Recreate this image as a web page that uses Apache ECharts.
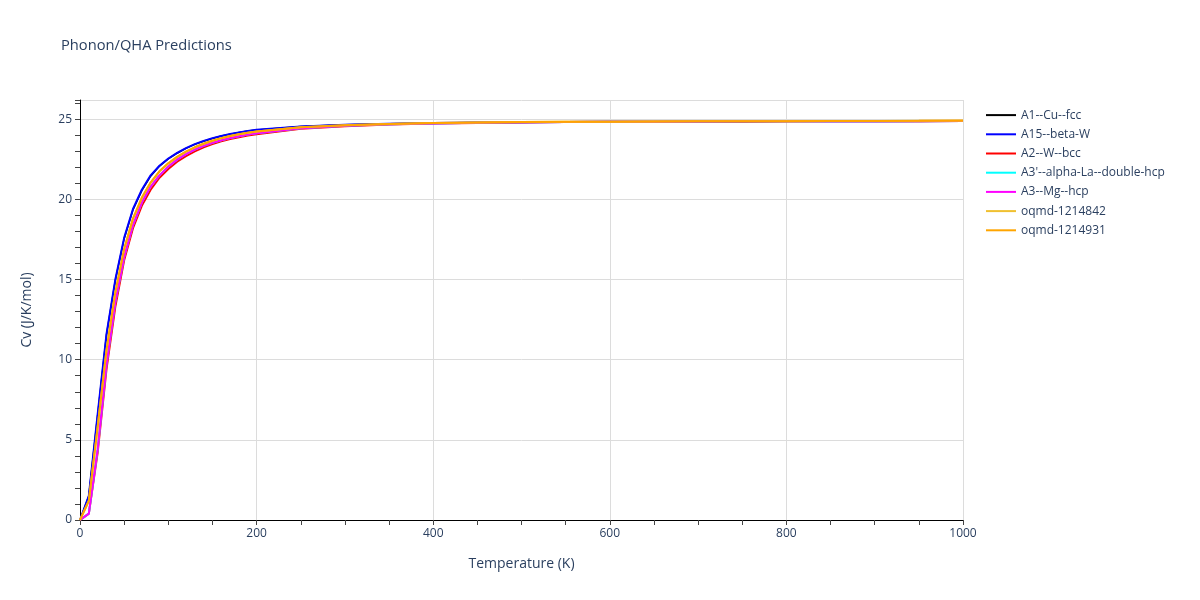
<!DOCTYPE html>
<html>
<head>
<meta charset="utf-8">
<script src="https://cdn.jsdelivr.net/npm/echarts@6/dist/echarts.min.js"></script>
<style>html,body{margin:0;padding:0;background:#fff}#c{width:1200px;height:600px}</style>
</head>
<body>
<div id="c"></div>
<script>
const temps = [0,10,20,30,40,50,60,70,80,90,100,110,120,130,140,150,160,170,180,190,200,250,300,350,400,450,500,550,600,650,700,750,800,850,900,950,1000];
const seriesNames = ["A1--Cu--fcc","A15--beta-W","A2--W--bcc","A3'--alpha-La--double-hcp","A3--Mg--hcp","oqmd-1214842","oqmd-1214931"];
const seriesColors = ["#000000","#0000ff","#ff0000","#00ffff","#ff00ff","#f0c030","#ffa500"];
const cuFcc = [0,1.5,6.55,11.55,14.95,17.55,19.35,20.55,21.45,22.08,22.53,22.88,23.18,23.43,23.63,23.8,23.95,24.07,24.17,24.26,24.33,24.54,24.66,24.72,24.76,24.79,24.81,24.83,24.84,24.85,24.86,24.86,24.87,24.87,24.88,24.88,24.89];
const betaW = [0,1.5,6.6,11.6,15.0,17.6,19.4,20.6,21.5,22.1,22.55,22.9,23.2,23.45,23.65,23.82,23.96,24.08,24.18,24.27,24.34,24.55,24.66,24.72,24.76,24.79,24.81,24.83,24.84,24.85,24.86,24.86,24.87,24.87,24.88,24.88,24.89];
const wBcc = [0,0.4,4.2,9.4,13.3,16.2,18.2,19.6,20.6,21.35,21.9,22.35,22.7,23.0,23.25,23.45,23.62,23.76,23.88,23.98,24.07,24.4,24.57,24.67,24.73,24.77,24.8,24.82,24.84,24.85,24.86,24.86,24.87,24.87,24.88,24.88,24.89];
const laDhcp = [0,0.4,4.4,9.7,13.6,16.4,18.4,19.8,20.8,21.5,22.05,22.48,22.82,23.1,23.34,23.53,23.69,23.83,23.94,24.04,24.12,24.43,24.59,24.68,24.74,24.78,24.81,24.83,24.84,24.85,24.86,24.87,24.87,24.88,24.88,24.89,24.89];
const mgHcp = [0,0.4,4.4,9.7,13.6,16.4,18.4,19.8,20.8,21.5,22.05,22.48,22.82,23.1,23.34,23.53,23.69,23.83,23.94,24.04,24.12,24.43,24.59,24.68,24.74,24.78,24.81,24.83,24.84,24.85,24.86,24.87,24.87,24.88,24.88,24.89,24.89];
const oqmd842 = [0,1.2,5.8,10.6,14.2,16.9,18.8,20.1,21.05,21.75,22.25,22.65,22.98,23.25,23.47,23.66,23.82,23.95,24.06,24.16,24.24,24.5,24.63,24.71,24.76,24.79,24.82,24.84,24.85,24.86,24.87,24.88,24.88,24.89,24.89,24.9,24.91];
const oqmd931 = [0,1.2,5.8,10.6,14.2,16.9,18.8,20.1,21.05,21.75,22.25,22.65,22.98,23.25,23.47,23.66,23.82,23.95,24.06,24.16,24.24,24.5,24.63,24.71,24.76,24.79,24.82,24.84,24.85,24.86,24.87,24.88,24.88,24.89,24.89,24.9,24.92];
const allValues = [cuFcc, betaW, wBcc, laDhcp, mgHcp, oqmd842, oqmd931];

const font = '"Open Sans", verdana, arial, sans-serif';
const txt = '#2a3f5f';
const chart = echarts.init(document.getElementById('c'), null, {renderer:'canvas'});
chart.setOption({
  animation:false,
  backgroundColor:'#fff',
  title:{text:'Phonon/QHA Predictions', left:56, top:33, textStyle:{fontFamily:font, fontSize:14.7, fontWeight:'normal', color:txt}},
  legend:{
    orient:'vertical', left:986, top:108, padding:0, itemWidth:30, itemHeight:2, itemGap:5, icon:'rect',
    textStyle:{fontFamily:font, fontSize:12, color:txt, lineHeight:14.2},
    data:seriesNames
  },
  grid:{left:80, right:237, top:100, bottom:80, containLabel:false},
  xAxis:{
    type:'value', min:0, max:1000, interval:200,
    name:'Temperature (K)', nameLocation:'middle', nameGap:37,
    nameTextStyle:{fontFamily:font, fontSize:14, color:txt},
    axisLine:{show:true, lineStyle:{color:'#000', width:1}},
    axisTick:{show:true, length:5, lineStyle:{color:'#444'}},
    minorTick:{show:true, splitNumber:4, length:5, lineStyle:{color:'#444'}},
    axisLabel:{fontFamily:font, fontSize:12, color:txt, margin:8, formatter:v=>String(v)},
    splitLine:{show:true, lineStyle:{color:'#dcdcdc', width:1}}
  },
  yAxis:{
    type:'value', min:0, max:26.2, interval:5,
    name:'Cv (J/K/mol)', nameLocation:'middle', nameGap:46, nameRotate:90,
    nameTextStyle:{fontFamily:font, fontSize:14, color:txt},
    axisLine:{show:true, lineStyle:{color:'#000', width:1}},
    axisTick:{show:true, length:5, lineStyle:{color:'#444'}},
    minorTick:{show:true, splitNumber:5, length:5, lineStyle:{color:'#444'}},
    axisLabel:{fontFamily:font, fontSize:12, color:txt, margin:8, showMaxLabel:false},
    splitLine:{show:true, lineStyle:{color:'#dcdcdc', width:1}}
  },
  series: seriesNames.map((n,i)=>({
    name:n, type:'line', showSymbol:false, symbol:'none',
    color:seriesColors[i],
    lineStyle:{width:i===0?1.5:2, color:seriesColors[i]},
    data: temps.map((t,j)=>[t, allValues[i][j]])
  }))
});
</script>
</body>
</html>
